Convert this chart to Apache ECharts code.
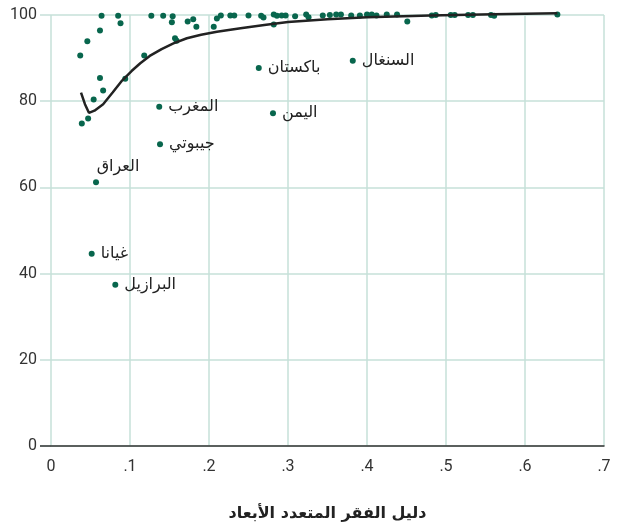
<!DOCTYPE html>
<html lang="ar">
  <head>
    <meta charset="UTF-8" />
    <title>دليل الفقر المتعدد الأبعاد</title>
    <script src="https://cdn.jsdelivr.net/npm/echarts@6/dist/echarts.min.js"></script>
    <style>
      html, body { margin: 0; padding: 0; background: #fff; }
      #chart { width: 618px; height: 526px; }
    </style>
  </head>
  <body>
    <div id="chart"></div>
    <script>
      const xTickLabels = ["0", ".1", ".2", ".3", ".4", ".5", ".6", ".7"];
      const yTickValues = [0, 20, 40, 60, 80, 100];

      // النقاط غير المسماة [x, y]
      const points = [
        [0.037, 90.6], [0.046, 93.9], [0.062, 96.4], [0.064, 99.8], [0.062, 85.4],
        [0.066, 82.5], [0.054, 80.4], [0.047, 76.0], [0.039, 74.8], [0.094, 85.2],
        [0.085, 99.8], [0.088, 98.1], [0.118, 90.6], [0.127, 99.8], [0.142, 99.8],
        [0.154, 99.7], [0.153, 98.3], [0.157, 94.6], [0.159, 94.0], [0.173, 98.5],
        [0.180, 99.0], [0.184, 97.3], [0.206, 97.3], [0.210, 99.2], [0.215, 99.9],
        [0.227, 99.9], [0.232, 99.9], [0.250, 99.9], [0.266, 99.8], [0.269, 99.4],
        [0.282, 100.1], [0.286, 99.8], [0.292, 99.9], [0.297, 99.9], [0.282, 97.8],
        [0.309, 99.7], [0.323, 100.1], [0.326, 99.5], [0.344, 99.9], [0.353, 100],
        [0.361, 100.1], [0.367, 100.1], [0.380, 99.9], [0.391, 99.9], [0.400, 100.1],
        [0.406, 100.1], [0.412, 99.9], [0.425, 100.1], [0.438, 100.1], [0.451, 98.5],
        [0.482, 99.9], [0.487, 100], [0.506, 100], [0.511, 100], [0.528, 100],
        [0.534, 100], [0.557, 100], [0.561, 99.8], [0.641, 100.1]
      ];

      // النقاط المسماة
      const countries = ["باكستان", "السنغال", "اليمن", "المغرب", "جيبوتي", "العراق", "غيانا", "البرازيل"];
      const countryX = [0.263, 0.382, 0.281, 0.137, 0.138, 0.057, 0.0515, 0.0814];
      const countryY = [87.7, 89.4, 77.2, 78.7, 70.0, 61.2, 44.6, 37.4];

      // منحنى الاتجاه
      const curve = [
        [0.038, 82.0], [0.043, 79.3], [0.048, 77.3], [0.055, 77.8], [0.066, 79.3],
        [0.078, 82.0], [0.09, 84.8], [0.102, 87.0], [0.113, 88.8], [0.125, 90.5],
        [0.14, 92.1], [0.155, 93.4], [0.172, 94.6], [0.19, 95.4], [0.21, 96.1],
        [0.24, 96.9], [0.27, 97.7], [0.3, 98.4], [0.35, 99.0], [0.4, 99.5],
        [0.48, 99.9], [0.56, 100.2], [0.641, 100.4]
      ];

      const numFont = "'Liberation Sans Narrow', 'Roboto', sans-serif";
      const arFont = "'DejaVu Sans', sans-serif";
      const gridColor = "#c6e0d9";
      const dotColor = "#08664d";

      const chart = echarts.init(document.getElementById("chart"));

      const labeled = countries.map((name, i) => {
        const item = { name: name, value: [countryX[i], countryY[i]] };
        if (name === "العراق") {
          item.label = { position: "top", offset: [22, 2] };
        }
        return item;
      });

      const option = {
        animation: false,
        grid: { left: 51, right: 14, top: 15, bottom: 80, outerBoundsMode: "none" },
        xAxis: {
          type: "value",
          min: 0,
          max: 0.7,
          interval: 0.1,
          name: "دليل الفقر المتعدد الأبعاد",
          nameLocation: "middle",
          nameGap: 60,
          nameTextStyle: { fontFamily: arFont, fontSize: 16, fontWeight: "bold", color: "#222" },
          axisLine: { show: true, lineStyle: { color: "#333", width: 1.5 } },
          axisTick: { show: false },
          axisLabel: {
            margin: 13,
            fontFamily: numFont,
            fontSize: 16,
            color: "#333",
            formatter: (v) => xTickLabels[Math.round(v * 10)]
          },
          splitLine: { show: true, lineStyle: { color: gridColor, width: 1.5 } }
        },
        yAxis: [
          {
            type: "value",
            min: 0,
            max: 100,
            interval: 20,
            axisLine: { show: false },
            axisTick: { show: true, length: 11, lineStyle: { color: gridColor, width: 1.5 } },
            axisLabel: {
              margin: 14,
              fontFamily: numFont,
              fontSize: 16,
              color: "#333",
              customValues: yTickValues
            },
            splitLine: { show: true, lineStyle: { color: gridColor, width: 1.5 } }
          },
          {
            type: "value",
            min: 0,
            max: 100,
            position: "left",
            axisLine: { show: false },
            axisLabel: { show: false },
            splitLine: { show: false },
            axisTick: { show: true, length: 11, customValues: [0], lineStyle: { color: "#333", width: 1.5 } }
          }
        ],
        series: [
          {
            type: "scatter",
            data: points,
            symbolSize: 6,
            clip: false,
            itemStyle: { color: dotColor, opacity: 1 },
            z: 3
          },
          {
            type: "line",
            data: curve,
            showSymbol: false,
            clip: false,
            lineStyle: { color: "#222", width: 2.5 },
            z: 4
          },
          {
            type: "scatter",
            data: labeled,
            symbolSize: 6,
            clip: false,
            itemStyle: { color: dotColor, opacity: 1 },
            label: {
              show: true,
              position: "right",
              distance: 6,
              formatter: "{b}",
              fontFamily: arFont,
              fontSize: 16,
              color: "#222"
            },
            z: 5
          }
        ]
      };

      chart.setOption(option);
    </script>
  </body>
</html>
